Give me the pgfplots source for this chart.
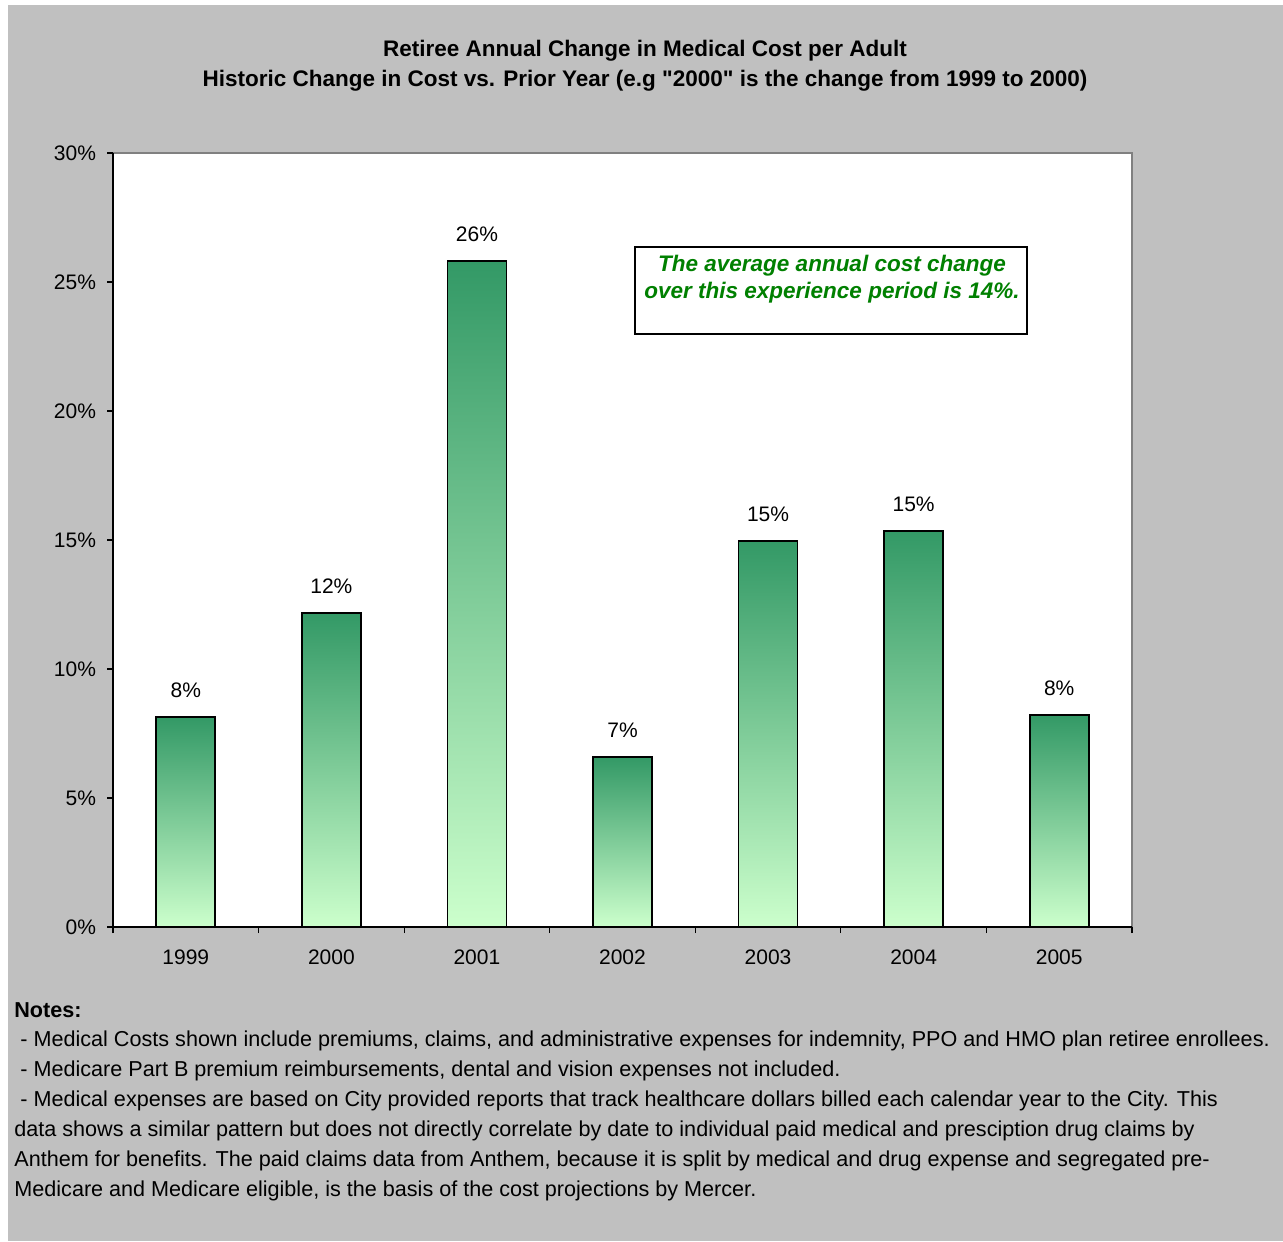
\documentclass[border=0pt]{standalone}
\usepackage{fontspec}
\setmainfont{Liberation Sans}[Ligatures=TeXOff]
\usepackage{pgfplots}
\pgfplotsset{compat=1.18}

\definecolor{chartbg}{HTML}{C0C0C0}
\definecolor{barTop}{HTML}{339966}
\definecolor{barBot}{HTML}{CCFFCC}
\definecolor{noteGreen}{HTML}{008000}
\definecolor{frameGray}{HTML}{808080}

\newcommand{\tickfont}{\fontsize{10.5}{12}\selectfont}
\newcommand{\titlefont}{\fontsize{11.25}{13}\selectfont\bfseries}
\newcommand{\notefont}{\fontsize{10.8}{12}\selectfont}

% one shaded bar per year, so that every bar gets its own gradient
\pgfplotsset{gbar/.style={draw=black, line width=0.9pt,
  top color=barTop, bottom color=barBot, bar shift=0pt,
  point meta=y,
  nodes near coords={\pgfmathprintnumber[fixed,precision=0]{\pgfplotspointmeta}\%},
  every node near coord/.append style={font=\tickfont, text=black, anchor=south, yshift=6pt}}}

\begin{document}
\begin{tikzpicture}
\useasboundingbox (0,0) rectangle (641.5pt,-620.5pt);
\fill[white] (0,0) rectangle (641.5pt,-620.5pt);
\fill[chartbg] (4pt,-2.5pt) rectangle (641.5pt,-620.5pt);

% titles
\node[font=\titlefont] at (322.5pt,-25.2pt) {Retiree Annual Change in Medical Cost per Adult};
\node[font=\titlefont] at (322.5pt,-40.3pt) {Historic Change in Cost vs. Prior Year (e.g "2000" is the change from 1999 to 2000)};

\begin{axis}[
  at={(56.5pt,-463.5pt)}, anchor=south west,
  scale only axis, width=509.5pt, height=387pt,
  xmin=-0.5, xmax=6.5, ymin=0, ymax=30,
  ybar, bar width=29.5pt,
  axis background/.style={fill=white, draw=frameGray, line width=0.6pt},
  axis x line*=bottom, axis y line*=left,
  axis line style={black, line width=0.6pt, -},
  tick align=outside,
  major tick length=3pt, minor tick length=3pt,
  xtick={0,...,6},
  xticklabels={1999,2000,2001,2002,2003,2004,2005},
  major x tick style={draw=none},
  minor xtick={-0.5,0.5,1.5,2.5,3.5,4.5,5.5,6.5},
  minor x tick style={black, line width=0.6pt},
  ytick={0,5,...,30},
  y tick style={black, line width=0.6pt},
  /pgf/number format/assume math mode=true,
  yticklabel={\pgfmathprintnumber{\tick}\%},
  ticklabel style={font=\tickfont},
  xticklabel style={yshift=-5pt},
  yticklabel style={xshift=-2pt},
  clip=false,
]
\addplot[gbar] coordinates {(0,8.14)};
\addplot[gbar] coordinates {(1,12.17)};
\addplot[gbar] coordinates {(2,25.81)};
\addplot[gbar] coordinates {(3,6.59)};
\addplot[gbar] coordinates {(4,14.96)};
\addplot[gbar] coordinates {(5,15.35)};
\addplot[gbar] coordinates {(6,8.22)};
\end{axis}

% note box inside the plot area
\draw[black, line width=0.8pt, fill=white] (317.5pt,-123.5pt) rectangle (513.5pt,-167pt);
\node[font=\titlefont\itshape, text=noteGreen] at (416pt,-133pt) {The average annual cost change};
\node[font=\titlefont\itshape, text=noteGreen] at (416pt,-146.5pt) {over this experience period is 14\%.};

% notes
\node[font=\notefont\bfseries, anchor=base west, inner sep=0] at (7pt,-508.5pt) {Notes:};
\begin{scope}[every node/.style={font=\notefont, anchor=base west, inner sep=0}]
\node at (7pt,-523pt) {\ - Medical Costs shown include premiums, claims, and administrative expenses for indemnity, PPO and HMO plan retiree enrollees.};
\node at (7pt,-538pt) {\ - Medicare Part B premium reimbursements, dental and vision expenses not included.};
\node at (7pt,-553pt) {\ - Medical expenses are based on City provided reports that track healthcare dollars billed each calendar year to the City. This};
\node at (7pt,-568pt) {data shows a similar pattern but does not directly correlate by date to individual paid medical and presciption drug claims by};
\node at (7pt,-583pt) {Anthem for benefits. The paid claims data from Anthem, because it is split by medical and drug expense and segregated pre-};
\node at (7pt,-598pt) {Medicare and Medicare eligible, is the basis of the cost projections by Mercer.};
\end{scope}
\end{tikzpicture}
\end{document}
